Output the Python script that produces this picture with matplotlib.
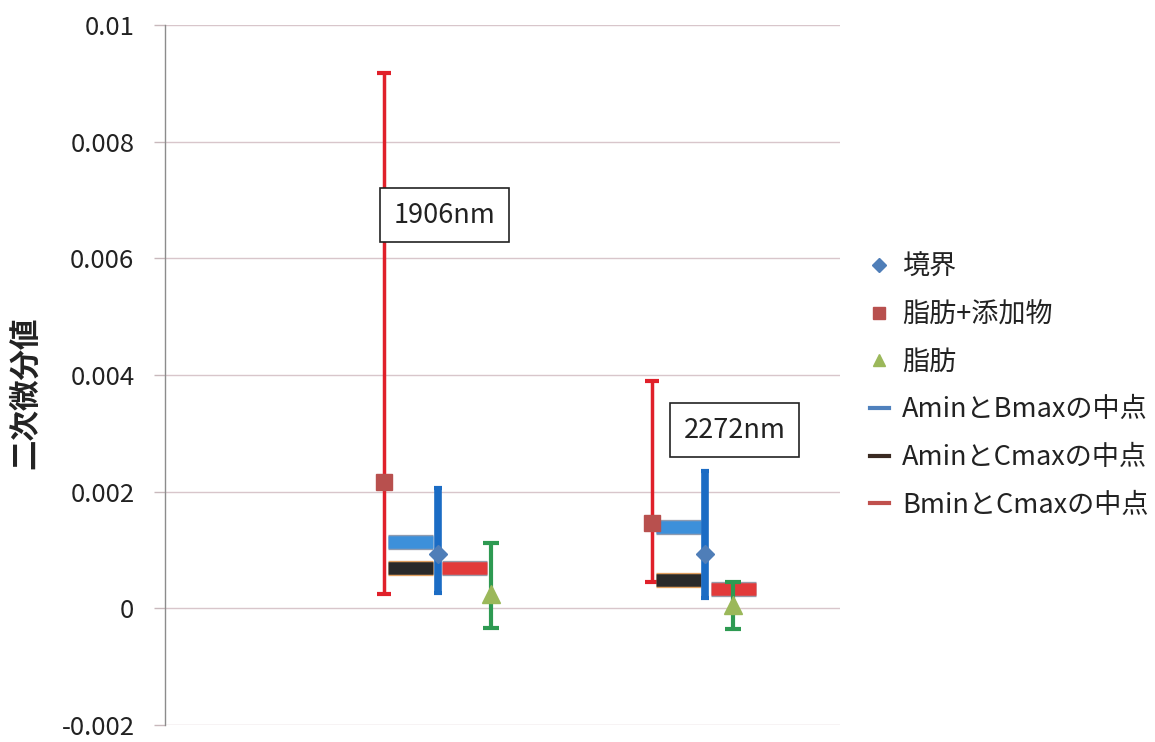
import matplotlib
matplotlib.use("Agg")
import matplotlib.pyplot as plt
import matplotlib.patheffects as pe
from matplotlib.lines import Line2D

plt.rcParams['font.family'] = ['Noto Sans CJK JP', 'DejaVu Sans']

# wavelengths (one cluster each)
categories = ['1906nm', '2272nm']

# 境界 (boundary) with range
boundary = [0.00094, 0.00094]
boundary_lo = [0.00026, 0.00017]
boundary_hi = [0.00206, 0.00236]

# 脂肪+添加物 with range
fat_add = [0.00216, 0.00146]
fat_add_lo = [0.00024, 0.00045]
fat_add_hi = [0.00918, 0.00390]

# 脂肪 with range
fat = [0.00024, 0.00006]
fat_lo = [-0.00033, -0.00036]
fat_hi = [0.00112, 0.00046]

# midpoints
mid_amin_bmax = [0.00113, 0.00139]
mid_amin_cmax = [0.00069, 0.00048]
mid_bmin_cmax = [0.00069, 0.00034]

yticks = [-0.002, 0, 0.002, 0.004, 0.006, 0.008, 0.01]
ytick_labels = ['-0.002', '0', '0.002', '0.004', '0.006', '0.008', '0.01']

# horizontal placement of each series inside a cluster
off_fat_add = [-0.203, -0.198]
off_mid_ab = [-0.103, -0.100]
off_mid_bc = [0.100, 0.105]
off_fat = [0.198, 0.103]
half_w = 0.084

fig = plt.figure(figsize=(11.55, 7.42), dpi=100)
ax = fig.add_axes([0.1429, 0.0229, 0.5844, 0.9434])
ax.set_xlim(-1.0225, 1.5056)
ax.set_ylim(-0.002, 0.01)

ax.set_yticks(yticks)
ax.set_yticklabels(ytick_labels, fontsize=18.5, color='#222222')
ax.tick_params(axis='y', length=8, width=1, color='#C8B8BC', pad=14)
ax.set_xticks([])
for s in ['top', 'right', 'bottom']:
    ax.spines[s].set_visible(False)
ax.spines['left'].set_color('#8C8C8C')
ax.spines['left'].set_linewidth(1)
ax.yaxis.grid(True, color='#D8C6CB', linewidth=1)
ax.set_axisbelow(True)

fig.text(25 / 1155, 1 - 393 / 742, '二次微分値', fontsize=22, fontweight='bold',
         rotation=90, ha='center', va='center', color='#222222')

idx = list(range(len(categories)))


def hbar(xc, y, face, edge):
    ax.plot([xc - half_w, xc + half_w], [y, y], color=face, lw=9,
            solid_capstyle='butt', zorder=4,
            path_effects=[pe.Stroke(linewidth=11, foreground=edge), pe.Normal()])


for i in idx:
    x_fa = i + off_fat_add[i]
    ax.errorbar(x_fa, fat_add[i],
                yerr=[[fat_add[i] - fat_add_lo[i]], [fat_add_hi[i] - fat_add[i]]],
                fmt='none', ecolor='#E0202A', elinewidth=2.5, capsize=5, capthick=3, zorder=3)
    ax.plot(x_fa, fat_add[i], 's', color='#B8504E', markersize=11, zorder=6)

    hbar(i + off_mid_ab[i], mid_amin_bmax[i], '#3D90DA', '#8E9BB0')
    hbar(i + off_mid_ab[i], mid_amin_cmax[i], '#2A2A2A', '#E0A060')
    hbar(i + off_mid_bc[i], mid_bmin_cmax[i], '#E23A3A', '#9A9AA8')

    ax.errorbar(i, boundary[i],
                yerr=[[boundary[i] - boundary_lo[i]], [boundary_hi[i] - boundary[i]]],
                fmt='none', ecolor='#1B6CC4', elinewidth=5.5, capsize=3, capthick=3, zorder=5)
    ax.plot(i, boundary[i], 'D', color='#4F7EB8', markersize=9, zorder=6)

    x_f = i + off_fat[i]
    ax.errorbar(x_f, fat[i],
                yerr=[[fat[i] - fat_lo[i]], [fat_hi[i] - fat[i]]],
                fmt='none', ecolor='#2E9A52', elinewidth=3, capsize=6, capthick=3, zorder=5)
    ax.plot(x_f, fat[i], '^', color='#9BB85A', markersize=13, zorder=6)

# wavelength labels in boxes
label_pos = [(-0.165, 0.00674), (0.921, 0.00305)]
for (lx, ly), name in zip(label_pos, categories):
    ax.text(lx, ly, name, fontsize=19.5, ha='left', va='center', color='#222222', zorder=7,
            bbox=dict(boxstyle='square,pad=0.5', facecolor='white', edgecolor='#222222', linewidth=1.2))

handles = [
    Line2D([], [], ls='none', marker='D', color='#4F7EB8', markersize=7),
    Line2D([], [], ls='none', marker='s', color='#B8504E', markersize=9),
    Line2D([], [], ls='none', marker='^', color='#9BB85A', markersize=9),
    Line2D([], [], color='#4F81BD', lw=3),
    Line2D([], [], color='#3A2A22', lw=3),
    Line2D([], [], color='#C0504D', lw=3),
]
labels = ['境界', '脂肪+添加物', '脂肪', 'AminとBmaxの中点', 'AminとCmaxの中点', 'BminとCmaxの中点']
fig.legend(handles, labels, loc='upper left', bbox_to_anchor=(0.732, 0.691),
           frameon=False, fontsize=19.5, handlelength=0.7, handletextpad=0.5,
           labelspacing=0.76, labelcolor='#222222')

fig.savefig('out.png', dpi=100, facecolor='white')
